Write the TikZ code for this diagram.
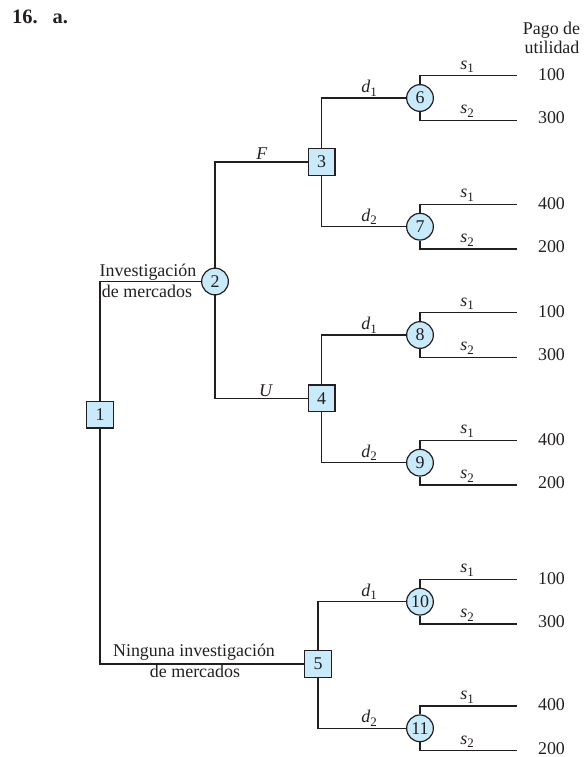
\documentclass[tikz,border=0pt]{standalone}
\usepackage{fontspec}
\setmainfont{Liberation Serif}
\definecolor{nodefill}{RGB}{200,234,250}
\definecolor{linec}{RGB}{35,31,32}
\newcommand\ilbl[2]{\textit{#1}\raisebox{-0.2em}{\fontsize{13}{13}\selectfont #2}}
\begin{document}
\begin{tikzpicture}[x=1bp,y=-1bp,
  every node/.style={font=\fontsize{18}{21}\selectfont, text=linec},
  decbox/.style={draw=linec, line width=1.2bp, fill=nodefill, minimum size=26.5bp, inner sep=0pt},
  chance/.style={circle, draw=linec, line width=1.2bp, fill=nodefill, minimum size=26.7bp, inner sep=0pt},
  conn/.style={draw=linec, line width=1.2bp},
  lab/.style={anchor=base, inner sep=0pt},
  pay/.style={anchor=center, inner sep=0pt}]
\useasboundingbox (0,0) rectangle (586,757);

% title
\node[anchor=base west, inner sep=0pt, font=\fontsize{20.5}{24}\selectfont\bfseries] (t16) at (12,24) {16.};
\node[anchor=base west, inner sep=0pt, font=\fontsize{20.5}{24}\selectfont\bfseries] (ta) at (52.5,24) {a.};

% header
\node[lab] (h1) at (551.5,35) {Pago de};
\node[lab] (h2) at (552,53.5) {utilidad};

% decision nodes
\node[decbox] (n1) at (100,414.7) {1};
\node[decbox] (n3) at (321.7,162) {3};
\node[decbox] (n4) at (321.7,398.3) {4};
\node[decbox] (n5) at (318,664) {5};
\node[chance] (n2) at (215,281.5) {2};

% main connectors
\draw[conn] (n1.north) |- (n2.west);
\draw[conn] (n1.south) |- (n5.west);
\draw[conn] (n2.north) |- (n3.west);
\draw[conn] (n2.south) |- (n4.west);

\node[lab] (l1a) at (148,276) {Investigación};
\node[lab] (l1b) at (147,297) {de mercados};
\node[lab] (l2a) at (194,656.5) {Ninguna investigación};
\node[lab] (l2b) at (195,677.3) {de mercados};
\node[lab] (lF) at (262,159.5) {\textit{F}};
\node[lab] (lU) at (266,396) {\textit{U}};

% chance nodes
\foreach \n/\y/\a/\b/\p in {6/98/100/300/3, 7/226.7/400/200/3, 8/335/100/300/4, 9/462.7/400/200/4, 10/601.7/100/300/5, 11/728.3/400/200/5}{
  \node[chance] (n\n) at (420,\y) {\n};
  \coordinate (t\n) at (517,\y-22.3);
  \coordinate (b\n) at (517,\y+22.3);
  \draw[conn] (n\n.north) |- (t\n);
  \draw[conn] (n\n.south) |- (b\n);
  \node[lab] (st\n) at (467,\y-22.3-6.5) {\ilbl{s}{1}};
  \node[lab] (sb\n) at (467,\y+22.3-6.5) {\ilbl{s}{2}};
  \node[pay] (pt\n) at (551.5,\y-23.5) {\a};
  \node[pay] (pb\n) at (551.5,\y+20) {\b};
}

% decision -> chance connectors
\draw[conn] (n3.north) |- (n6.west);
\draw[conn] (n3.south) |- (n7.west);
\draw[conn] (n4.north) |- (n8.west);
\draw[conn] (n4.south) |- (n9.west);
\draw[conn] (n5.north) |- (n10.west);
\draw[conn] (n5.south) |- (n11.west);

\foreach \y/\i/\m in {98/1/a, 226.7/2/b, 335/1/c, 462.7/2/d, 601.7/1/e, 728.3/2/f}{
  \node[lab] (d\m) at (369,\y-5.5) {\ilbl{d}{\i}};
}
\end{tikzpicture}
\end{document}
